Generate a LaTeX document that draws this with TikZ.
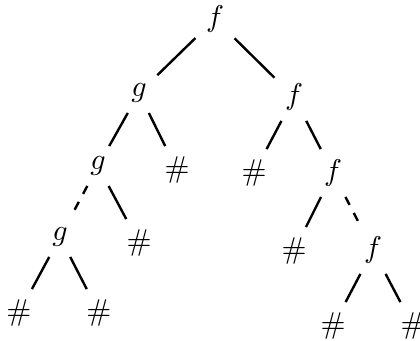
\documentclass[tikz,border=0pt]{standalone}
\usepackage{amsmath,amsfonts,amssymb}
\usetikzlibrary{positioning}

\begin{document}
\begin{tikzpicture}[
		x=0.3333pt, y=-0.3333pt,
		sym/.style={inner sep=3.33pt},
		rama/.style={thick},
		ramad/.style={thick, dashed}
	]
	\useasboundingbox (0,0) rectangle (420,340);

	% Raiz y primer nivel
	\node[sym] (r) at (215,19) {$f$};
	\node[sym] (r1) at (139,93) {$g$};
	\node[sym] (r2) at (294,97) {$f$};

	% Segundo nivel
	\node[sym] (r11) at (98,166) {$g$};
	\node[sym] (r12) at (177,170) {$\#$};
	\node[sym] (r21) at (254,173) {$\#$};
	\node[sym] (r22) at (333,173) {$f$};

	% Tercer nivel
	\node[sym] (r111) at (60,237) {$g$};
	\node[sym] (r112) at (139,243) {$\#$};
	\node[sym] (r221) at (294,251) {$\#$};
	\node[sym] (r222) at (373,250) {$f$};

	% Hojas
	\node[sym] (r1111) at (19,313) {$\#$};
	\node[sym] (r1112) at (99,313) {$\#$};
	\node[sym] (r2221) at (333,326) {$\#$};
	\node[sym] (r2222) at (413,326) {$\#$};

	% Ramas
	\foreach \a/\b in {r/r1, r/r2, r1/r11, r1/r12, r2/r21, r2/r22, r11/r112, r22/r221, r111/r1111, r111/r1112, r222/r2221, r222/r2222} {
			\draw[rama] (\a) -- (\b);
		}
	\draw[ramad] (r11) -- (r111);
	\draw[ramad] (r22) -- (r222);

\end{tikzpicture}
\end{document}
